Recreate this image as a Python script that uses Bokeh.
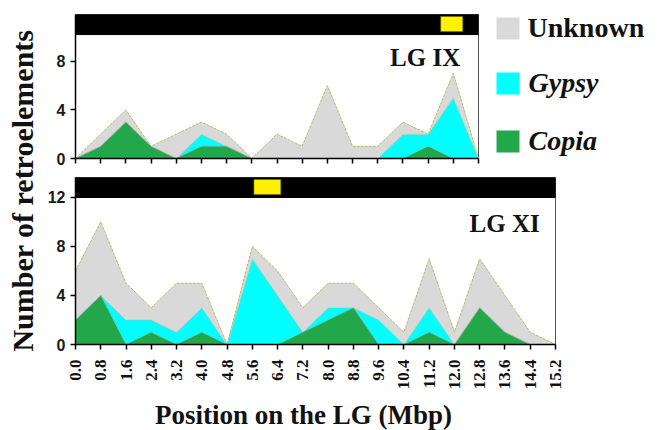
import math
from bokeh.plotting import figure
from bokeh.layouts import row, column
from bokeh.models import Range1d, FixedTicker, NumeralTickFormatter, ColumnDataSource, CustomJSTickFormatter
from bokeh.core.properties import value
from bokeh.embed import file_html
from bokeh.resources import INLINE

# ---------------- data ----------------
series = ["Unknown", "Gypsy", "Copia"]
colors = {"Copia": "#22a84a", "Gypsy": "#00ffff", "Unknown": "#d9d9d9"}

pos_ix = [0.0, 0.8, 1.6, 2.4, 3.2, 4.0, 4.8, 5.6, 6.4, 7.2, 8.0, 8.8, 9.6, 10.4, 11.2, 12.0, 12.8]
copia_ix = [0, 1, 3, 1, 0, 1, 1, 0, 0, 0, 0, 0, 0, 0, 1, 0, 0]
gypsy_ix = [0, 0, 0, 0, 0, 1, 0, 0, 0, 0, 0, 0, 0, 2, 1, 5, 0]
unknown_ix = [0, 1, 1, 0, 2, 1, 1, 0, 2, 1, 6, 1, 1, 1, 0, 2, 0]

pos_xi = [0.0, 0.8, 1.6, 2.4, 3.2, 4.0, 4.8, 5.6, 6.4, 7.2, 8.0, 8.8, 9.6, 10.4, 11.2, 12.0, 12.8, 13.6, 14.4, 15.2]
copia_xi = [2, 4, 0, 1, 0, 1, 0, 0, 0, 1, 2, 3, 0, 0, 1, 0, 3, 1, 0, 0]
gypsy_xi = [0, 0, 2, 1, 1, 2, 0, 7, 4, 0, 1, 0, 2, 0, 2, 0, 0, 0, 0, 0]
unknown_xi = [4, 6, 3, 1, 4, 2, 0, 1, 2, 2, 2, 2, 1, 1, 4, 1, 4, 3, 1, 0]

lg_names = ["LG IX", "LG XI"]
lg_length = [12.8, 15.2]
centromere_ix = [11.6, 12.3]
centromere_xi = [5.65, 6.5]

yticks_ix = [0, 4, 8]
yticks_xi = [0, 4, 8, 12]

SERIF = value("Liberation Serif")


def style_axes(p, yticks, xticks, show_xlabels):
    p.grid.visible = False
    p.background_fill_color = "white"
    p.border_fill_color = "white"
    p.outline_line_color = "#555555"
    p.outline_line_width = 1
    for ax in (p.xaxis[0], p.yaxis[0]):
        ax.axis_line_color = "black"
        ax.axis_line_width = 1.5
        ax.major_tick_line_color = "black"
        ax.major_tick_line_width = 1.5
        ax.major_tick_in = 0
        ax.major_tick_out = 5
        ax.minor_tick_line_color = None
    p.yaxis.ticker = FixedTicker(ticks=yticks)
    p.yaxis.major_label_text_font = "Liberation Sans"
    p.yaxis.major_label_text_font_style = "bold"
    p.yaxis.major_label_text_font_size = "16px"
    p.yaxis.major_label_text_color = "#1a1a1a"
    p.yaxis.major_label_standoff = 5
    p.xaxis.ticker = FixedTicker(ticks=xticks)
    if show_xlabels:
        p.xaxis.formatter = NumeralTickFormatter(format="0.0")
        p.xaxis.major_label_orientation = math.pi / 2
        p.xaxis.major_label_text_font = "Liberation Serif"
        p.xaxis.major_label_text_font_style = "bold"
        p.xaxis.major_label_text_font_size = "17px"
        p.xaxis.major_label_text_color = "#111111"
        p.xaxis.major_label_standoff = 10
    else:
        p.xaxis.formatter = CustomJSTickFormatter(code="return ''")
        p.xaxis.major_label_standoff = 0


def draw_panel(p, pos, copia, gypsy, unknown, bar_bottom, bar_top, length, cen, name, lx, ly):
    cum1 = list(copia)
    cum2 = [a + b for a, b in zip(copia, gypsy)]
    total = [a + b for a, b in zip(cum2, unknown)]
    src = ColumnDataSource(dict(x=pos, Copia=copia, Gypsy=gypsy, Unknown=unknown,
                                c1=cum1, c2=cum2, tot=total))
    p.varea_stack(["Copia", "Gypsy", "Unknown"], x="x", source=src,
                  color=[colors["Copia"], colors["Gypsy"], colors["Unknown"]])
    p.line("x", "tot", source=src, line_color="#b7bd6a", line_width=1, line_dash="3 1")
    p.line("x", "c2", source=src, line_color="#d2b48a", line_width=0.7, line_alpha=0.7)
    p.line("x", "c1", source=src, line_color="#6f8fa0", line_width=0.7, line_alpha=0.7)
    # chromosome bar with centromere
    p.quad(left=[0], right=[length], bottom=[bar_bottom], top=[bar_top],
           fill_color="black", line_color="black")
    p.quad(left=[cen[0]], right=[cen[1]],
           bottom=[bar_bottom + 0.15 * (bar_top - bar_bottom)],
           top=[bar_top - 0.1 * (bar_top - bar_bottom)],
           fill_color="#fff200", line_color="#6b6b00", line_width=0.6)
    p.text(x=[lx], y=[ly], text=[name], text_align="right", text_baseline="middle",
           text_font=SERIF, text_font_style="bold", text_font_size="25px", text_color="#111111")


# ---------------- top panel (LG IX) ----------------
p1 = figure(width=440, height=171, x_range=Range1d(0, lg_length[0]), y_range=Range1d(0, 11.85),
            output_backend="svg", toolbar_location=None,
            min_border_left=35, min_border_right=2, min_border_top=14, min_border_bottom=13)
draw_panel(p1, pos_ix, copia_ix, gypsy_ix, unknown_ix, 10.2, 11.85, lg_length[0], centromere_ix,
           lg_names[0], 12.22, 8.35)
style_axes(p1, yticks_ix, pos_ix, False)

# ---------------- legend ----------------
leg = figure(width=180, height=171, x_range=Range1d(0, 180), y_range=Range1d(13, 157),
             output_backend="svg", toolbar_location=None, x_axis_type=None, y_axis_type=None,
             min_border_left=0, min_border_right=0, min_border_top=14, min_border_bottom=13)
leg.outline_line_color = None
leg.grid.visible = False
sq_top = [154, 99, 41]
for i, s in enumerate(series):
    leg.quad(left=[16], right=[39], bottom=[sq_top[i] - 22], top=[sq_top[i]],
             fill_color=colors[s], line_color=None)
    leg.text(x=[47 if s == "Unknown" else 48], y=[sq_top[i] - 9.5], text=[s],
             text_align="left", text_baseline="middle", text_font=SERIF,
             text_font_style="bold" if s == "Unknown" else "bold italic",
             text_font_size="28px", text_color="#111111")

# ---------------- bottom panel (LG XI) ----------------
p2 = figure(width=620, height=224, x_range=Range1d(0, lg_length[1]), y_range=Range1d(0, 13.63),
            output_backend="svg", toolbar_location=None,
            min_border_left=35, min_border_right=105, min_border_top=6, min_border_bottom=51)
draw_panel(p2, pos_xi, copia_xi, gypsy_xi, unknown_xi, 12.0, 13.63, lg_length[1], centromere_xi,
           lg_names[1], 14.7, 9.85)
style_axes(p2, yticks_xi, pos_xi, True)

# ---------------- axis titles ----------------
xlab = figure(width=620, height=35, x_range=Range1d(35, 515), y_range=Range1d(0, 35),
              output_backend="svg", toolbar_location=None, x_axis_type=None, y_axis_type=None,
              min_border_left=35, min_border_right=105, min_border_top=0, min_border_bottom=0)
xlab.outline_line_color = None
xlab.grid.visible = False
xlab.text(x=[263], y=[16], text=["Position on the LG (Mbp)"], text_align="center",
          text_baseline="middle", text_font=SERIF, text_font_style="bold",
          text_font_size="27px", text_color="#111111")

ylab = figure(width=40, height=430, x_range=Range1d(0, 40), y_range=Range1d(0, 430),
              output_backend="svg", toolbar_location=None, x_axis_type=None, y_axis_type=None,
              min_border=0)
ylab.outline_line_color = None
ylab.grid.visible = False
ylab.text(x=[22], y=[240], text=["Number of retroelements"], angle=math.pi / 2,
          text_align="center", text_baseline="middle", text_font=SERIF,
          text_font_style="bold", text_font_size="30px", text_color="#111111")

layout = row(ylab, column(row(p1, leg), p2, xlab))
open("out.html", "w").write(file_html(layout, INLINE))
